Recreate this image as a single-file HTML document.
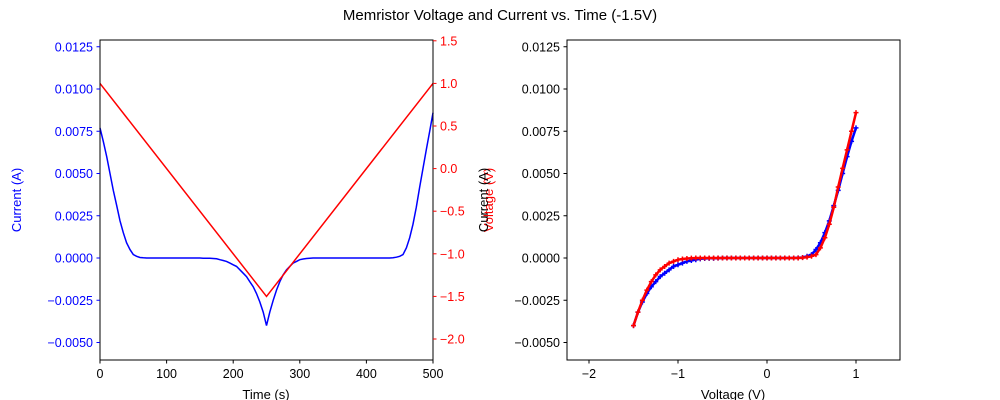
<!DOCTYPE html>
<html><head><meta charset="utf-8"><style>
html,body{margin:0;padding:0;background:#fff}
svg{display:block;font-family:"Liberation Sans","DejaVu Sans",sans-serif}
</style></head><body>
<svg id="c" width="1000" height="400" viewBox="0 0 1000 400">
<text x="500" y="20" font-size="15" text-anchor="middle">Memristor Voltage and Current vs. Time (-1.5V)</text>
</svg>
<script>
const times=[0,5,10,15,20,25,30,35,40,45,50,55,60,65,70,75,80,85,90,95,100,105,110,115,120,125,130,135,140,145,150,155,160,165,170,175,180,185,190,195,200,205,210,215,220,225,230,235,240,245,250,255,260,265,270,275,280,285,290,295,300,305,310,315,320,325,330,335,340,345,350,355,360,365,370,375,380,385,390,395,400,405,410,415,420,425,430,435,440,445,450,455,460,465,470,475,480,485,490,495,500];
const current=[0.0077,0.0069,0.0060,0.0050,0.0040,0.0031,0.0022,0.0015,0.0009,0.0005,0.0002,0.0001,0.00003,0.00001,0,0,0,0,0,0,0,0,0,0,0,0,0,0,0,0,0,-0.00001,-0.00002,-0.00002,-0.00003,-0.00005,-0.0001,-0.00015,-0.0002,-0.0003,-0.0004,-0.0005,-0.0007,-0.0009,-0.0011,-0.0014,-0.0017,-0.0021,-0.0026,-0.0032,-0.0040,-0.0032,-0.0025,-0.0019,-0.0014,-0.0010,-0.0007,-0.0005,-0.0003,-0.0002,-0.0001,-0.00006,-0.00003,-0.00001,0,0,0,0,0,0,0,0,0,0,0,0,0,0,0,0,0,0,0,0,0,0,0,0,0.00002,0.00005,0.0001,0.0002,0.0006,0.0012,0.0020,0.0030,0.0042,0.0053,0.0064,0.0075,0.0086];
const voltage=[1.0,-1.5,1.0]; const voltageTimes=[0,250,500];
const currentTicks=[-0.005,-0.0025,0,0.0025,0.005,0.0075,0.01,0.0125];
const currentTickLabels=["\u22120.0050","\u22120.0025","0.0000","0.0025","0.0050","0.0075","0.0100","0.0125"];
const voltTicks=[-2,-1.5,-1,-0.5,0,0.5,1,1.5];
const voltTickLabels=["\u22122.0","\u22121.5","\u22121.0","\u22120.5","0.0","0.5","1.0","1.5"];
const timeTicks=[0,100,200,300,400,500];
const ivTicks=[-2,-1,0,1];
const ivTickLabels=["\u22122","\u22121","0","1"];

const svg=document.getElementById('c');const NS='http://www.w3.org/2000/svg';
function mk(tag,attrs,parent){const e=document.createElementNS(NS,tag);for(const k in attrs)e.setAttribute(k,attrs[k]);(parent||svg).appendChild(e);return e;}
const yI=v=>258-v/0.0025*42.25;
const yV=v=>339-(v+2)/0.5*42.6;
const xT=t=>100+t/500*333;
const xIV=v=>767+v*89;
function vAt(t){for(let i=0;i<voltageTimes.length-1;i++){if(t<=voltageTimes[i+1]){const f=(t-voltageTimes[i])/(voltageTimes[i+1]-voltageTimes[i]);return voltage[i]+f*(voltage[i+1]-voltage[i]);}}return voltage[voltage.length-1];}

const lg=mk('g',{});

let p=times.map((t,i)=>(i?'L':'M')+xT(t).toFixed(1)+','+yI(current[i]).toFixed(1)).join('');
const cl=mk('path',{d:p,fill:'none',stroke:'#0000ff','stroke-width':1.5},lg);

p=voltageTimes.map((t,i)=>(i?'L':'M')+xT(t).toFixed(1)+','+yV(voltage[i]).toFixed(1)).join('');
const vl=mk('path',{d:p,fill:'none',stroke:'#ff0000','stroke-width':1.5},lg);

const f1=mk('rect',{x:100,y:40,width:333,height:320,fill:'none',stroke:'#000','stroke-width':1},lg);

currentTicks.forEach((v,i)=>{const y=yI(v);mk('line',{x1:96.5,x2:100,y1:y,y2:y,stroke:'#0000ff'},lg);
 const t=mk('text',{x:93,y:y+4.5,'font-size':12.5,'text-anchor':'end',fill:'#0000ff'},lg);t.textContent=currentTickLabels[i];
 });
voltTicks.forEach((v,i)=>{const y=yV(v);mk('line',{x1:433,x2:436.5,y1:y,y2:y,stroke:'#ff0000'},lg);
 const t=mk('text',{x:440,y:y+4.5,'font-size':12.5,fill:'#ff0000'},lg);t.textContent=voltTickLabels[i];
 });
timeTicks.forEach(v=>{const x=xT(v);mk('line',{x1:x,x2:x,y1:360,y2:363.5,stroke:'#000'},lg);
 const t=mk('text',{x:x,y:378,'font-size':12.5,'text-anchor':'middle'},lg);t.textContent=v;
 });
let t1=mk('text',{x:266,y:399,'font-size':13,'text-anchor':'middle'},lg);t1.textContent='Time (s)';

t1=mk('text',{transform:'translate(21,200) rotate(-90)','font-size':13,'text-anchor':'middle',fill:'#0000ff'},lg);t1.textContent='Current (A)';

t1=mk('text',{transform:'translate(493,200) rotate(-90)','font-size':13,'text-anchor':'middle',fill:'#ff0000'},lg);t1.textContent='Voltage (V)';


const rg=mk('g',{});

function cross(x,y,c,g){mk('path',{d:`M${x-2.5},${y}h5M${x},${y-2.5}v5`,stroke:c,'stroke-width':1.5},g);}
const bg=mk('g',{},rg);
const rdg=mk('g',{},rg);
let pd='',pu='';
times.forEach((t,i)=>{const v=vAt(t);const x=xIV(v).toFixed(1),y=yI(current[i]).toFixed(1);
 if(t<=250)pd+=(pd?'L':'M')+x+','+y; if(t>=250)pu+=(pu?'L':'M')+x+','+y;});
mk('path',{d:pd,fill:'none',stroke:'#0000ff','stroke-width':2.5},bg);
mk('path',{d:pu,fill:'none',stroke:'#ff0000','stroke-width':2.5},rdg);
times.forEach((t,i)=>{const v=vAt(t);const x=xIV(v),y=yI(current[i]);
 if(t<=250)cross(x,y,'#0000ff',bg);if(t>=250)cross(x,y,'#ff0000',rdg);});
const f2=mk('rect',{x:567,y:40,width:333,height:320,fill:'none',stroke:'#000','stroke-width':1},rg);

currentTicks.forEach((v,i)=>{const y=yI(v);mk('line',{x1:563.5,x2:567,y1:y,y2:y,stroke:'#000'},rg);
 const t=mk('text',{x:560,y:y+4.5,'font-size':12.5,'text-anchor':'end'},rg);t.textContent=currentTickLabels[i];
 });
ivTicks.forEach((v,i)=>{const x=xIV(v);mk('line',{x1:x,x2:x,y1:360,y2:363.5,stroke:'#000'},rg);
 const t=mk('text',{x:x,y:378,'font-size':12.5,'text-anchor':'middle'},rg);t.textContent=ivTickLabels[i];
 });
t1=mk('text',{x:733,y:399,'font-size':13,'text-anchor':'middle'},rg);t1.textContent='Voltage (V)';

t1=mk('text',{transform:'translate(488,200) rotate(-90)','font-size':13,'text-anchor':'middle'},rg);t1.textContent='Current (A)';

</script>
</body></html>
